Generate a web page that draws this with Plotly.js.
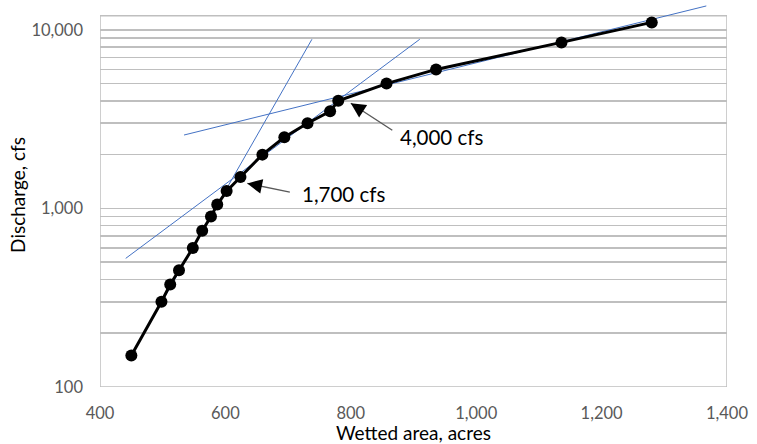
<!DOCTYPE html>
<html>
<head>
<meta charset="utf-8">
<script src="https://cdn.plot.ly/plotly-3.0.1.min.js"></script>
<style>html,body{margin:0;padding:0;background:#fff;}#chart{width:757px;height:444px;}</style>
</head>
<body>
<div id="chart"></div>
<script>
// Rating curve data (wetted area, acres vs discharge, cfs)
var wettedArea = [450, 498, 512, 526, 548, 563, 577, 587, 602, 624, 659, 694, 731, 767, 780, 857, 936, 1136, 1280];
var discharge  = [150, 300, 375, 450, 600, 750, 900, 1050, 1250, 1500, 2000, 2500, 3000, 3500, 4000, 5000, 6000, 8500, 11000];

// Tangent (breakpoint) lines
var tangent1Area = [453, 738];
var tangent1Q    = [157, 8850];
var tangent2Area = [441, 910];
var tangent2Q    = [525, 8850];
var tangent3Area = [534, 1367];
var tangent3Q    = [2575, 13600];

// Annotations: label text, label anchor (area, discharge), arrow tip (area, discharge)
var noteText    = ["1,700 cfs", "4,000 cfs"];
var noteLabelA  = [719, 875];
var noteLabelQ  = [1200, 2510];
var noteTipA    = [635, 800];
var noteTipQ    = [1380, 3880];

// Axis ticks
var xTicks = [400, 600, 800, 1000, 1200, 1400];
var yTickVals = [100,200,300,400,500,600,700,800,900,1000,2000,3000,4000,5000,6000,7000,8000,9000,10000];
var yTickText = yTickVals.map(function(v){ return (v===100||v===1000||v===10000) ? v.toLocaleString('en-US') : ''; });
var xMin = 400, xMax = 1400, yMin = 100, yMax = 12000;

var FONT = 'Lato, "Open Sans", sans-serif';
var blue = '#4472C4';

var traces = [
  {x: tangent1Area, y: tangent1Q, mode: 'lines', line: {color: blue, width: 1}, hoverinfo: 'skip'},
  {x: tangent2Area, y: tangent2Q, mode: 'lines', line: {color: blue, width: 1}, hoverinfo: 'skip'},
  {x: tangent3Area, y: tangent3Q, mode: 'lines', line: {color: blue, width: 1}, hoverinfo: 'skip'},
  {x: wettedArea, y: discharge, mode: 'lines+markers',
   line: {color: '#000000', width: 3},
   marker: {color: '#000000', size: 12, symbol: 'circle'}}
];

// arrow tail offsets in pixels (from tip)
var arrowTail = [[44, 9], [43, 28]];
var annotations = [];
noteText.forEach(function(t, i){
  annotations.push({
    x: noteLabelA[i], y: Math.log10(noteLabelQ[i]), xref: 'x', yref: 'y',
    text: t, showarrow: false, xanchor: 'left', yanchor: 'middle',
    font: {family: FONT, size: 20.5, color: '#000000'}
  });
  annotations.push({
    x: noteTipA[i], y: Math.log10(noteTipQ[i]), xref: 'x', yref: 'y',
    text: '', showarrow: true, arrowhead: 0, arrowwidth: 1.4,
    arrowcolor: '#595959', ax: arrowTail[i][0], ay: arrowTail[i][1]
  });
  var L = Math.sqrt(arrowTail[i][0]*arrowTail[i][0] + arrowTail[i][1]*arrowTail[i][1]);
  annotations.push({
    x: noteTipA[i], y: Math.log10(noteTipQ[i]), xref: 'x', yref: 'y',
    text: '', showarrow: true, arrowhead: 2, arrowwidth: 1.4, arrowsize: 2.1,
    arrowcolor: '#000000', ax: arrowTail[i][0]*12/L, ay: arrowTail[i][1]*12/L
  });
});

var layout = {
  width: 757, height: 444,
  margin: {l: 100, r: 30, t: 3, b: 57},
  paper_bgcolor: '#ffffff', plot_bgcolor: '#ffffff',
  showlegend: false,
  font: {family: FONT},
  xaxis: {
    range: [xMin, xMax], tickvals: xTicks, tickformat: ',d',
    showgrid: false, zeroline: false, showline: false, ticks: '',
    ticklabelstandoff: 14,
    tickfont: {family: FONT, size: 16.5, color: '#595959'},
    title: {text: 'Wetted area, acres', font: {family: FONT, size: 19, color: '#000000'}, standoff: 2}
  },
  yaxis: {
    type: 'log', range: [2, 4.15],
    tickvals: yTickVals, ticktext: yTickText,
    showgrid: true, gridcolor: '#bfbfbf', gridwidth: 1.5,
    zeroline: false, showline: false, ticks: '',
    ticklabelstandoff: 16,
    tickfont: {family: FONT, size: 16.5, color: '#595959'},
    title: {text: 'Discharge, cfs', font: {family: FONT, size: 19, color: '#000000'}, standoff: 0}
  },
  shapes: [{
    type: 'rect', xref: 'x', yref: 'y',
    x0: xMin, x1: xMax, y0: yMin, y1: yMax,
    line: {color: '#bfbfbf', width: 1.5}, fillcolor: 'rgba(0,0,0,0)', layer: 'below'
  }],
  annotations: annotations
};

Plotly.newPlot('chart', traces, layout, {displayModeBar: false, staticPlot: true});
</script>
</body>
</html>
